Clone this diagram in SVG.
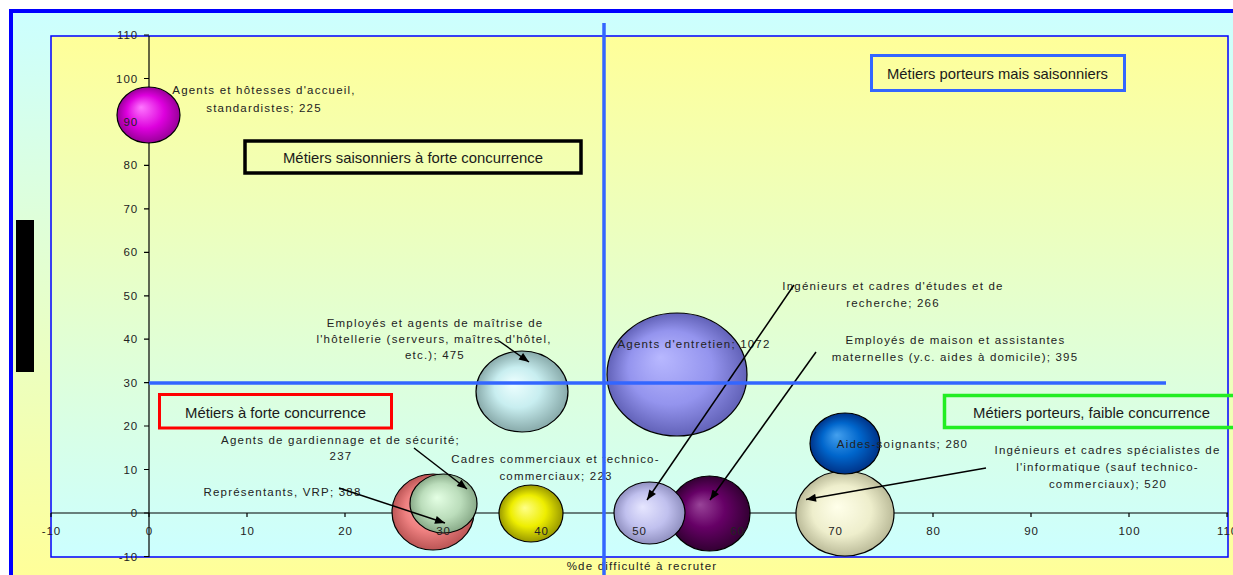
<svg xmlns="http://www.w3.org/2000/svg" width="1233" height="575" viewBox="0 0 1233 575">
<style>
.lbl{font-family:"Liberation Sans",Arial,sans-serif;font-size:11.5px;letter-spacing:1.2px;fill:#222;text-anchor:middle}
.tk{font-family:"Liberation Sans",Arial,sans-serif;font-size:11.5px;letter-spacing:0.9px;fill:#222}
.ty{text-anchor:end}
.tx{text-anchor:middle}
.box{font-family:"Liberation Sans",Tahoma,sans-serif;font-size:15px;fill:#1a1a1a;text-anchor:middle}
.bub{stroke:#000;stroke-width:1.2}
.arr{stroke:#000;stroke-width:1.5;fill:none;marker-end:url(#ah)}
.axis{stroke:#000;stroke-width:1.2;fill:none}
.quad{stroke:#3366FF;stroke-width:3.5;fill:none}
</style>
<defs>
<linearGradient id="gOuter" x1="0" y1="13" x2="0" y2="575" gradientUnits="userSpaceOnUse">
<stop offset="0" stop-color="#CCFFFF"/><stop offset="1" stop-color="#FFFF99"/>
</linearGradient>
<linearGradient id="gInner" x1="0" y1="36" x2="0" y2="557" gradientUnits="userSpaceOnUse">
<stop offset="0" stop-color="#FFFF99"/><stop offset="1" stop-color="#CCFFFF"/>
</linearGradient>
<radialGradient id="gMag" cx="0.5" cy="0.5" r="0.5" fx="0.38" fy="0.36"><stop offset="0" stop-color="#FF77FF"/><stop offset="0.6" stop-color="#DD00DD"/><stop offset="1" stop-color="#990099"/></radialGradient>
<radialGradient id="gHot" cx="0.5" cy="0.5" r="0.5" fx="0.4" fy="0.4"><stop offset="0" stop-color="#EEFFFF"/><stop offset="0.5" stop-color="#C8EEF0"/><stop offset="1" stop-color="#88AAAA"/></radialGradient>
<radialGradient id="gEnt" cx="0.5" cy="0.5" r="0.5" fx="0.38" fy="0.36"><stop offset="0" stop-color="#B8B8FF"/><stop offset="0.6" stop-color="#9494EE"/><stop offset="1" stop-color="#6262B8"/></radialGradient>
<radialGradient id="gPink" cx="0.5" cy="0.5" r="0.5" fx="0.4" fy="0.4"><stop offset="0" stop-color="#FFB0B0"/><stop offset="0.6" stop-color="#EE8080"/><stop offset="1" stop-color="#BB5555"/></radialGradient>
<radialGradient id="gGreen" cx="0.5" cy="0.5" r="0.5" fx="0.4" fy="0.4"><stop offset="0" stop-color="#E4FFE4"/><stop offset="0.6" stop-color="#BBDDBB"/><stop offset="1" stop-color="#88AA88"/></radialGradient>
<radialGradient id="gYel" cx="0.5" cy="0.5" r="0.5" fx="0.4" fy="0.4"><stop offset="0" stop-color="#FFFF88"/><stop offset="0.55" stop-color="#EEEE00"/><stop offset="1" stop-color="#999900"/></radialGradient>
<radialGradient id="gLav" cx="0.5" cy="0.5" r="0.5" fx="0.4" fy="0.4"><stop offset="0" stop-color="#E6E6FF"/><stop offset="0.6" stop-color="#C0C0EE"/><stop offset="1" stop-color="#9090C0"/></radialGradient>
<radialGradient id="gPur" cx="0.5" cy="0.5" r="0.5" fx="0.38" fy="0.38"><stop offset="0" stop-color="#994499"/><stop offset="0.5" stop-color="#660066"/><stop offset="1" stop-color="#330033"/></radialGradient>
<radialGradient id="gBlue" cx="0.5" cy="0.5" r="0.5" fx="0.38" fy="0.36"><stop offset="0" stop-color="#44A0EE"/><stop offset="0.55" stop-color="#0066CC"/><stop offset="1" stop-color="#003388"/></radialGradient>
<radialGradient id="gBei" cx="0.5" cy="0.5" r="0.5" fx="0.42" fy="0.42"><stop offset="0" stop-color="#FFFFEA"/><stop offset="0.6" stop-color="#EEEECC"/><stop offset="1" stop-color="#BBBB99"/></radialGradient>
<marker id="ah" viewBox="0 0 10 8" refX="10" refY="4" markerWidth="11" markerHeight="8" markerUnits="userSpaceOnUse" orient="auto"><path d="M0,0 L10,4 L0,8 z" fill="#000"/></marker>
</defs>

<g id="background">
<rect x="11" y="11" width="1230" height="570" fill="url(#gOuter)"/>
<path d="M11,580 L11,11 L1233,11" fill="none" stroke="#0000FF" stroke-width="4"/>
<rect x="51" y="36" width="1177" height="521" fill="url(#gInner)" stroke="#0000FF" stroke-width="1.5"/>
<rect x="16" y="220" width="18" height="152" fill="#000"/>
</g>

<g id="axes">
<line class="axis" x1="51" y1="513" x2="1228" y2="513"/>
<line class="axis" x1="149" y1="36" x2="149" y2="557"/>
<path class="axis" d="M144,35H149M144,78.5H149M144,122H149M144,165.4H149M144,208.9H149M144,252.3H149M144,295.8H149M144,339.2H149M144,382.7H149M144,426H149M144,469.5H149M144,513H149M144,556.5H149"/>
<path class="axis" d="M51,513V517M149,513V517M247,513V517M345,513V517M443,513V517M541,513V517M639,513V517M737,513V517M835,513V517M933,513V517M1031,513V517M1129,513V517M1227,513V517"/>
</g>

<g id="n-agents-accueil">
<ellipse class="bub" cx="148.5" cy="115" rx="31.5" ry="28" fill="url(#gMag)"/>
<text class="lbl" x="264" y="94">Agents et hôtesses d'accueil,</text>
<text class="lbl" x="264" y="111.5">standardistes; 225</text>
</g>
<g id="n-hotellerie">
<ellipse class="bub" cx="522" cy="391.5" rx="46" ry="40.5" fill="url(#gHot)"/>
<text class="lbl" x="435" y="326.5">Employés et agents de maîtrise de</text>
<text class="lbl" x="434" y="343">l'hôtellerie (serveurs, maîtres d'hôtel,</text>
<text class="lbl" x="435" y="359">etc.); 475</text>
</g>
<g id="n-entretien">
<ellipse class="bub" cx="677" cy="374.5" rx="70" ry="61.5" fill="url(#gEnt)"/>
<text class="lbl" x="694" y="348">Agents d'entretien; 1072</text>
</g>
<g id="n-vrp">
<ellipse class="bub" cx="433" cy="512" rx="41" ry="38" fill="url(#gPink)"/>
<text class="lbl" x="282.5" y="496">Représentants, VRP; 388</text>
</g>
<g id="n-gardiennage">
<ellipse class="bub" cx="443.5" cy="503.5" rx="33.5" ry="29.5" fill="url(#gGreen)"/>
<text class="lbl" x="340.5" y="443.5">Agents de gardiennage et de sécurité;</text>
<text class="lbl" x="341" y="460">237</text>
</g>
<g id="n-cadres-commerciaux">
<ellipse class="bub" cx="531" cy="513.5" rx="32" ry="28.5" fill="url(#gYel)"/>
<text class="lbl" x="555.5" y="463">Cadres commerciaux et technico-</text>
<text class="lbl" x="556" y="480">commerciaux; 223</text>
</g>
<g id="n-employes-maison">
<ellipse class="bub" cx="709.5" cy="513.5" rx="40.5" ry="37.5" fill="url(#gPur)"/>
<text class="lbl" x="955.5" y="344">Employés de maison et assistantes</text>
<text class="lbl" x="955" y="361">maternelles (y.c. aides à domicile); 395</text>
</g>
<g id="n-ingenieurs-etudes">
<ellipse class="bub" cx="649.5" cy="513" rx="35.5" ry="31" fill="url(#gLav)"/>
<text class="lbl" x="893" y="290">Ingénieurs et cadres d'études et de</text>
<text class="lbl" x="893" y="307">recherche; 266</text>
</g>
<g id="n-ingenieurs-informatique">
<ellipse class="bub" cx="845" cy="513.5" rx="49" ry="42.5" fill="url(#gBei)"/>
<text class="lbl" x="1107.5" y="454">Ingénieurs et cadres spécialistes de</text>
<text class="lbl" x="1107.5" y="471">l'informatique (sauf technico-</text>
<text class="lbl" x="1108" y="487.5">commerciaux); 520</text>
</g>
<g id="n-aides-soignants">
<ellipse class="bub" cx="845" cy="443.5" rx="35" ry="30.5" fill="url(#gBlue)"/>
<text class="lbl" x="902.5" y="447.5">Aides-soignants; 280</text>
</g>

<g id="tick-labels">
<text class="tk ty" x="138" y="39">110</text>
<text class="tk ty" x="138" y="82.5">100</text>
<text class="tk ty" x="138" y="126">90</text>
<text class="tk ty" x="138" y="169.4">80</text>
<text class="tk ty" x="138" y="212.9">70</text>
<text class="tk ty" x="138" y="256.3">60</text>
<text class="tk ty" x="138" y="299.8">50</text>
<text class="tk ty" x="138" y="343.2">40</text>
<text class="tk ty" x="138" y="386.7">30</text>
<text class="tk ty" x="138" y="430">20</text>
<text class="tk ty" x="138" y="473.5">10</text>
<text class="tk ty" x="138" y="517">0</text>
<text class="tk ty" x="138" y="560.5">-10</text>
<text class="tk tx" x="51.5" y="534.5">-10</text>
<text class="tk tx" x="149.5" y="534.5">0</text>
<text class="tk tx" x="247.5" y="534.5">10</text>
<text class="tk tx" x="345.5" y="534.5">20</text>
<text class="tk tx" x="443.5" y="534.5">30</text>
<text class="tk tx" x="541.5" y="534.5">40</text>
<text class="tk tx" x="639.5" y="534.5">50</text>
<text class="tk tx" x="737.5" y="534.5">60</text>
<text class="tk tx" x="835.5" y="534.5">70</text>
<text class="tk tx" x="933.5" y="534.5">80</text>
<text class="tk tx" x="1031.5" y="534.5">90</text>
<text class="tk tx" x="1129.5" y="534.5">100</text>
<text class="tk tx" x="1227.5" y="534.5">110</text>
<text class="lbl" x="642" y="569.5">%de difficulté à recruter</text>
</g>

<g id="connectors">
<line class="arr" x1="499" y1="341" x2="529" y2="362"/>
<line class="arr" x1="414" y1="448" x2="467" y2="489"/>
<line class="arr" x1="339" y1="488" x2="445" y2="523"/>
<line class="arr" x1="794" y1="285" x2="647" y2="500"/>
<line class="arr" x1="816" y1="352" x2="710" y2="500"/>
<line class="arr" x1="986" y1="468" x2="806" y2="499.5"/>
</g>

<g id="quadrant-lines">
<line class="quad" x1="604" y1="23" x2="604" y2="575"/>
<line class="quad" x1="149" y1="383" x2="1166" y2="383"/>
</g>

<g id="box-porteurs-saisonniers">
<rect x="871.5" y="55.5" width="253" height="35" fill="none" stroke="#3366FF" stroke-width="3"/>
<text class="box" x="997.5" y="79" textLength="221" lengthAdjust="spacingAndGlyphs">Métiers porteurs mais saisonniers</text>
</g>
<g id="box-saisonniers-concurrence">
<rect x="245" y="141" width="336" height="32" fill="none" stroke="#000" stroke-width="3.5"/>
<text class="box" x="413" y="163" textLength="260" lengthAdjust="spacingAndGlyphs">Métiers saisonniers à forte concurrence</text>
</g>
<g id="box-forte-concurrence">
<rect x="159.5" y="394.5" width="232" height="33.5" fill="none" stroke="#FF0000" stroke-width="3"/>
<text class="box" x="275.5" y="418" textLength="181" lengthAdjust="spacingAndGlyphs">Métiers à forte concurrence</text>
</g>
<g id="box-porteurs-faible">
<rect x="944.5" y="395.5" width="300" height="32" fill="none" stroke="#22EE22" stroke-width="3.5"/>
<text class="box" x="1091.5" y="418" textLength="237" lengthAdjust="spacingAndGlyphs">Métiers porteurs, faible concurrence</text>
</g>
</svg>
